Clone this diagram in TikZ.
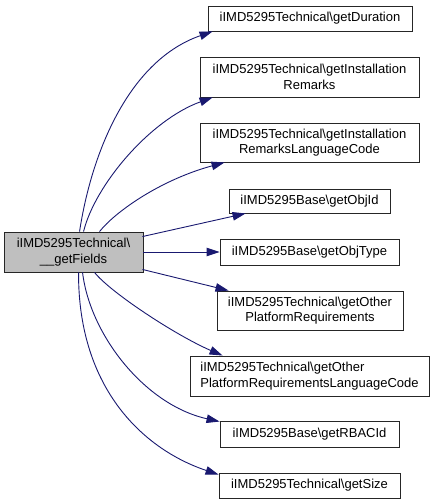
\documentclass[tikz,border=0pt]{standalone}
\usepackage{fontspec}
\setmainfont{Liberation Sans}
\usetikzlibrary{arrows.meta,calc}
\definecolor{edgeblue}{HTML}{191970}
\definecolor{mainfill}{HTML}{BFBFBF}
\begin{document}
\begin{tikzpicture}[x=1pt,y=-1pt,
  box/.style={draw=black!85,line width=0.9pt,fill=white,inner sep=0pt,
    font=\fontsize{13}{15.5}\selectfont,align=center},
  mainbox/.style={box,fill=mainfill},
  edge/.style={draw=edgeblue,line width=0.9pt,-{Triangle[length=13pt,width=8.5pt]}}]
\useasboundingbox (0,0) rectangle (435,504);
\node[mainbox,minimum width=139pt,minimum height=40pt] (main) at (73.5,252)
  {iIMD5295Technical\textbackslash\\\_\_getFields};
\node[box,minimum width=204pt,minimum height=25pt] (dur) at (310,18.5)
  {iIMD5295Technical\textbackslash getDuration};
\node[box,minimum width=219pt,minimum height=40pt] (rem) at (309.5,77)
  {iIMD5295Technical\textbackslash getInstallation\\Remarks};
\node[box,minimum width=219pt,minimum height=39pt] (remlc) at (309.5,142.5)
  {iIMD5295Technical\textbackslash getInstallation\\RemarksLanguageCode};
\node[box,minimum width=161pt,minimum height=24pt] (objid) at (309.5,201)
  {iIMD5295Base\textbackslash getObjId};
\node[box,minimum width=179pt,minimum height=26pt] (objtype) at (309.5,252)
  {iIMD5295Base\textbackslash getObjType};
\node[box,minimum width=186pt,minimum height=39pt] (opr) at (310,310.5)
  {iIMD5295Technical\textbackslash getOther\\PlatformRequirements};
\node[box,minimum width=239pt,minimum height=40pt,align=left] (oprlc) at (309.5,376)
  {iIMD5295Technical\textbackslash getOther\\PlatformRequirementsLanguageCode};
\node[box,minimum width=179pt,minimum height=26pt] (rbac) at (309.5,434)
  {iIMD5295Base\textbackslash getRBACId};
\node[box,minimum width=181pt,minimum height=25pt] (size) at (309.5,485.5)
  {iIMD5295Technical\textbackslash getSize};
% edges
\draw[edge] ($(main.north west)+(76,0)$) .. controls (92,150) and (130,60) .. ($(dur.south west)+(5,0)$);
\draw[edge] ($(main.north west)+(80,0)$) .. controls (95,185) and (150,120) .. ($(rem.south west)+(13,0)$);
\draw[edge] ($(main.north west)+(96,0)$) .. controls (115,212) and (160,180) .. ($(remlc.south west)+(25,0)$);
\draw[edge] ($(main.north east)+(-1,5)$) -- ($(objid.south west)+(17,0)$);
\draw[edge] (main.east) -- (objtype.west);
\draw[edge] ($(main.south east)+(-1,-3)$) -- ($(opr.north west)+(12,0)$);
\draw[edge] ($(main.south west)+(91,0)$) .. controls (110,292) and (175,335) .. ($(oprlc.north west)+(33,0)$);
\draw[edge] ($(main.south west)+(79,0)$) .. controls (90,335) and (145,405) .. ($(rbac.north west)+(0,1)$);
\draw[edge] ($(main.south west)+(75,0)$) .. controls (78,390) and (145,450) .. ($(size.north west)+(0,2)$);
\end{tikzpicture}
\end{document}
